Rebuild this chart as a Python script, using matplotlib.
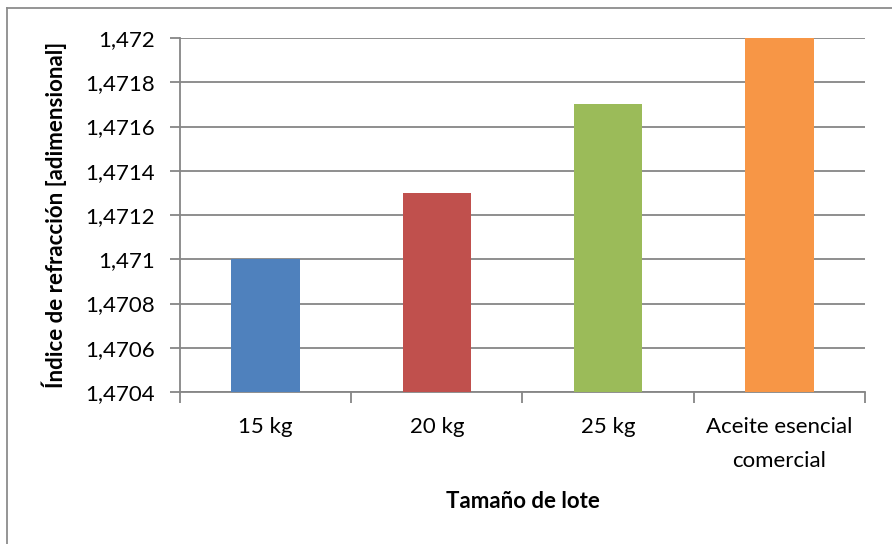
import matplotlib.pyplot as plt
from matplotlib.lines import Line2D
from matplotlib.ticker import FuncFormatter, MultipleLocator


CATEGORIES: list[str] = ["15 kg", "20 kg", "25 kg", "Aceite esencial\ncomercial"]
REFRACTIVE_INDEX: list[float] = [1.4710, 1.4713, 1.4717, 1.4720]
BAR_COLORS: list[str] = ["#4F81BD", "#C0504D", "#9BBB59", "#F79646"]

Y_MIN: float = 1.4704
Y_MAX: float = 1.4720
Y_STEP: float = 0.0002

GRID_COLOR = "#868686"

plt.rcParams["font.family"] = ["Lato", "DejaVu Sans"]


def comma_decimal(value: float, _pos) -> str:
    text = f"{value:.4f}".rstrip("0").rstrip(".")
    return text.replace(".", ",")


def main() -> None:
    fig = plt.figure(figsize=(8.92, 5.44), dpi=100)
    ax = fig.add_axes([0.2018, 0.2794, 0.7679, 0.6507])

    positions = range(len(CATEGORIES))
    ax.bar(positions, REFRACTIVE_INDEX, width=0.4, color=BAR_COLORS, zorder=3)

    ax.set_xlim(-0.5, len(CATEGORIES) - 0.5)
    ax.set_ylim(Y_MIN, Y_MAX)
    ax.yaxis.set_major_locator(MultipleLocator(Y_STEP))
    ax.yaxis.set_major_formatter(FuncFormatter(comma_decimal))
    ax.grid(axis="y", color=GRID_COLOR, linewidth=1.3, zorder=0)

    # category labels centred on bars, tick marks between categories
    ax.set_xticks(list(positions))
    ax.set_xticklabels(CATEGORIES, fontsize=16, color="#000000", linespacing=1.85)
    ax.tick_params(axis="x", length=0, pad=18)
    ax.set_xticks([i - 0.5 for i in range(len(CATEGORIES) + 1)], minor=True)
    ax.tick_params(axis="x", which="minor", length=8, width=1.3,
                   color=GRID_COLOR, direction="out")
    ax.tick_params(axis="y", length=7, width=1.3, color=GRID_COLOR,
                   labelsize=16, pad=11)

    for side in ("top", "right"):
        ax.spines[side].set_visible(False)
    for side in ("left", "bottom"):
        ax.spines[side].set_color(GRID_COLOR)
        ax.spines[side].set_linewidth(1.3)

    ax.set_xlabel("Tamaño de lote", fontsize=16, fontweight="bold")
    ax.xaxis.set_label_coords(0.5, -0.28)
    ax.set_ylabel("Índice de refracción [adimensional]", fontsize=16,
                  fontweight="bold")
    ax.yaxis.set_label_coords(-0.165, 0.5)

    # chart area outline
    fig.add_artist(Line2D([7 / 892, 7 / 892], [0, 1 - 8 / 544],
                          transform=fig.transFigure, color="#8C8C8C", linewidth=1.3))
    fig.add_artist(Line2D([7 / 892, 1], [1 - 8 / 544, 1 - 8 / 544],
                          transform=fig.transFigure, color="#8C8C8C", linewidth=1.3))

    fig.savefig("out.png", dpi=100)


if __name__ == "__main__":
    main()
